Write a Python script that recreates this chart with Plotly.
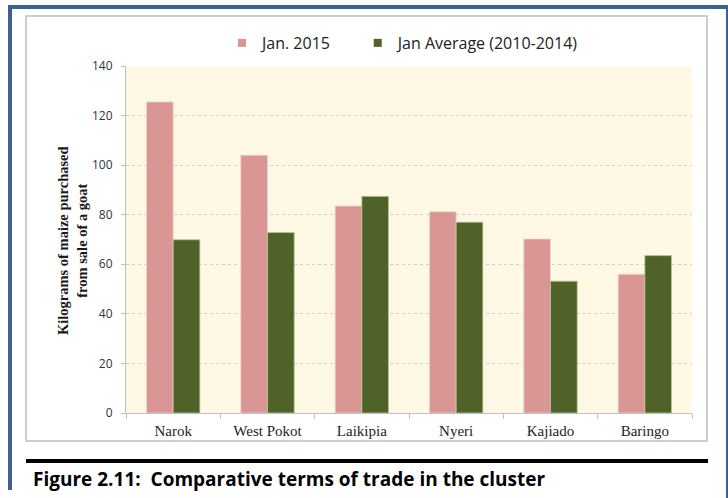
import plotly.graph_objects as go

categories = ["Narok", "West Pokot", "Laikipia", "Nyeri", "Kajiado", "Baringo"]
jan_2015 = [125.5, 104, 83.5, 81.2, 70.2, 56]
jan_avg = [69.9, 72.8, 87.4, 77, 53.2, 63.5]
series_names = ["Jan. 2015", "Jan Average (2010-2014)"]
y_ticks = [0, 20, 40, 60, 80, 100, 120, 140]

PINK = "#D99694"
GREEN = "#4F6228"

W, H = 728, 498
L, R, T, B = 126, 692, 66, 413
PW, PH = R - L, B - T


def px(x):
    return (x - L) / PW


def py(y):
    return (B - y) / PH


fig = go.Figure()
fig.add_trace(go.Bar(x=categories, y=jan_2015, name=series_names[0], marker=dict(color=PINK, line=dict(color="#F0D4D3", width=0.8)), showlegend=False))
fig.add_trace(go.Bar(x=categories, y=jan_avg, name=series_names[1], marker=dict(color=GREEN, line=dict(color="#B8C99A", width=0.8)), showlegend=False))
# legend entries with small square symbols (trailing spaces pad the first entry)
fig.add_trace(go.Scatter(x=[None], y=[None], mode="markers", name=series_names[0] + "\u00a0" * 5,
                         marker=dict(symbol="square", size=8, color=PINK)))
fig.add_trace(go.Scatter(x=[None], y=[None], mode="markers", name=series_names[1],
                         marker=dict(symbol="square", size=8, color=GREEN)))

shapes = [
    # chart box
    dict(type="rect", xref="paper", yref="paper", x0=px(26), x1=px(707), y0=py(441), y1=py(16),
         line=dict(color="#BFBFBF", width=1.5), layer="below"),
    # black rule
    dict(type="line", xref="paper", yref="paper", x0=px(26), x1=px(708), y0=py(461), y1=py(461),
         line=dict(color="black", width=4)),
    # blue frame
    dict(type="line", xref="paper", yref="paper", x0=px(8), x1=px(728), y0=py(7), y1=py(7),
         line=dict(color="#3D6190", width=4)),
    dict(type="line", xref="paper", yref="paper", x0=px(10), x1=px(10), y0=py(5), y1=py(490),
         line=dict(color="#3D6190", width=4)),
    dict(type="line", xref="paper", yref="paper", x0=px(727), x1=px(727), y0=py(5), y1=py(498),
         line=dict(color="#3D6190", width=2)),
]

annotations = [
    dict(text="<b>Kilograms of maize purchased<br>from sale of a goat</b>", xref="paper", yref="paper",
         x=px(72), y=py(241), textangle=-90, showarrow=False,
         font=dict(family="Liberation Serif", size=14.5, color="#1a1a1a"), xanchor="center", yanchor="middle"),
    dict(text="<b>Figure 2.11:\u00a0\u00a0Comparative terms of trade in the cluster</b>", xref="paper", yref="paper",
         x=px(31), y=py(479), showarrow=False, xanchor="left", yanchor="middle",
         font=dict(family="Open Sans", size=19, color="black")),
]

fig.update_layout(
    width=W, height=H,
    margin=dict(l=L, r=W - R, t=T, b=H - B),
    paper_bgcolor="white",
    plot_bgcolor="#FFF8E4",
    barmode="group", bargap=0.434, bargroupgap=0,
    shapes=shapes, annotations=annotations,
    legend=dict(orientation="h", x=px(222), xanchor="left", y=py(43), yanchor="middle",
                font=dict(family="Open Sans", size=16, color="#222"), itemwidth=30,
                bgcolor="rgba(0,0,0,0)"),
    xaxis=dict(showgrid=False, showline=True, linecolor="#BFBFBF", linewidth=1,
               ticks="outside", ticklen=5, tickcolor="#BFBFBF", tickson="boundaries",
               ticklabelstandoff=4,
               tickfont=dict(family="Liberation Serif", size=15, color="#222")),
    yaxis=dict(range=[0, 140], tickvals=y_ticks, showgrid=True, gridcolor="#D0D0D0", griddash="dot",
               gridwidth=1, showline=True, linecolor="#BFBFBF", linewidth=1, zeroline=False,
               ticks="outside", ticklen=4, tickcolor="#BFBFBF", ticklabelstandoff=6,
               tickfont=dict(family="Open Sans", size=12, color="#333")),
)

fig.write_html("out.html", config={"displayModeBar": False},
               post_script="document.body.style.margin='0';")
